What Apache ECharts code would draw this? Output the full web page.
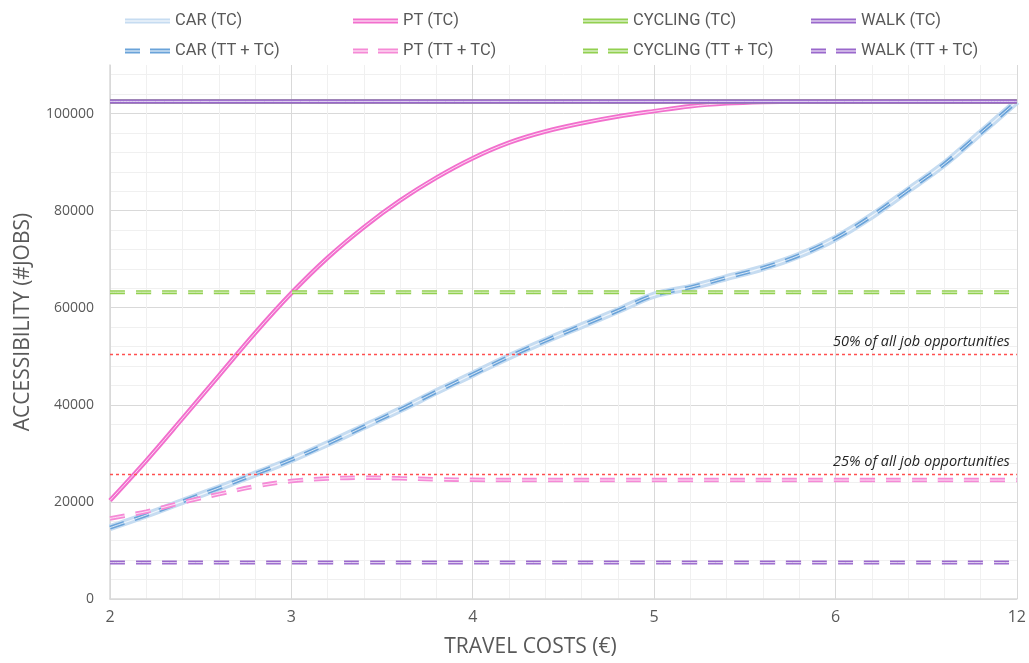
<!DOCTYPE html>
<html>
<head>
<meta charset="utf-8">
<script src="https://cdn.jsdelivr.net/npm/echarts@6/dist/echarts.min.js"></script>
<style>
html,body{margin:0;padding:0;background:#fff;}
#chart{width:1029px;height:663px;}
</style>
</head>
<body>
<div id="chart"></div>
<script>
// ---- data ----
const categories = ['2','2.2','2.4','2.6','2.8','3','3.2','3.4','3.6','3.8','4','4.2','4.4','4.6','4.8','5','5.2','5.4','5.6','5.8','6','7.2','8.4','9.6','10.8','12'];
const carTC      = [14700,17300,20100,22850,25750,28700,32000,35500,39000,42700,46300,49900,53200,56300,59400,62600,64200,66200,68200,70800,74300,78900,84200,89600,96000,102500];
const carTTTC    = [14700,17300,20100,22850,25750,28700,32000,35500,39000,42700,46300,49900,53200,56300,59400,62600,64200,66200,68200,70800,74300,78900,84200,89600,96000,102500];
const ptTC       = [20300,28500,37200,46000,54800,63000,70300,76600,82100,86800,90800,94000,96300,98000,99400,100500,101500,102100,102400,102500,102500,102500,102500,102500,102500,102500];
const ptTTTC     = [16600,18000,19900,21600,23200,24300,24800,25000,24850,24650,24550,24500,24500,24500,24500,24500,24500,24500,24500,24500,24500,24500,24500,24500,24500,24500];
const cyclingTC  = [102500,102500,102500,102500,102500,102500,102500,102500,102500,102500,102500,102500,102500,102500,102500,102500,102500,102500,102500,102500,102500,102500,102500,102500,102500,102500];
const cyclingTTTC= [63200,63200,63200,63200,63200,63200,63200,63200,63200,63200,63200,63200,63200,63200,63200,63200,63200,63200,63200,63200,63200,63200,63200,63200,63200,63200];
const walkTC     = [102500,102500,102500,102500,102500,102500,102500,102500,102500,102500,102500,102500,102500,102500,102500,102500,102500,102500,102500,102500,102500,102500,102500,102500,102500,102500];
const walkTTTC   = [7500,7500,7500,7500,7500,7500,7500,7500,7500,7500,7500,7500,7500,7500,7500,7500,7500,7500,7500,7500,7500,7500,7500,7500,7500,7500];
const thresholdValues = [50400, 25750];
const thresholdLabels = ['50% of all job opportunities', '25% of all job opportunities'];
const xAxisTitle = 'TRAVEL COSTS (€)';
const yAxisTitle = 'ACCESSIBILITY (#JOBS)';

// ---- styles ----
const MAJOR = '#d9d9d9', MINOR = '#f0f0f0';
const DASH = [15, 11];
const yLineColors = [];
for (let i = 0; i <= 28; i++) yLineColors.push(i === 28 ? 'rgba(0,0,0,0)' : (i % 5 === 0 ? MAJOR : MINOR));

const ICON_SOLID = 'path://M0,0H45V2H0Z M0,3H45V5H0Z';
const ICON_DASH = 'path://M0,0H15V2H0Z M0,3H15V5H0Z M25,0H45V2H25Z M25,3H45V5H25Z';

function lineSeries(name, data, color, width, dashed, z) {
  return {
    name: name, type: 'line', data: data, smooth: 0.35, symbol: 'none', z: z,
    lineStyle: { color: color, width: width, type: dashed ? DASH : 'solid', cap: 'butt' },
    itemStyle: { color: color },
    emphasis: { disabled: true }, silent: true
  };
}
function coreSeries(data, width, dashed, z) {
  return {
    name: '_core', type: 'line', data: data, smooth: 0.35, symbol: 'none', z: z,
    lineStyle: { color: 'rgba(255,255,255,0.75)', width: width, type: dashed ? DASH : 'solid', cap: 'butt' },
    emphasis: { disabled: true }, silent: true
  };
}

const C_CAR = '#c6dcf1', C_CAR_D = '#6aa3d9', C_PT = '#f26fcd', C_PT_D = '#f58ad6', C_CYC = '#92d050', C_WALK = '#9a68cc';

const series = [
  lineSeries('CAR (TC)', carTC, C_CAR, 7, false, 2), coreSeries(carTC, 1.2, false, 2),
  lineSeries('PT (TC)', ptTC, C_PT, 4.5, false, 3), coreSeries(ptTC, 1, false, 3),
  lineSeries('CYCLING (TC)', cyclingTC, C_CYC, 4.5, false, 3), coreSeries(cyclingTC, 1, false, 3),
  lineSeries('WALK (TC)', walkTC, C_WALK, 4.5, false, 3), coreSeries(walkTC, 1, false, 3),
  lineSeries('CAR (TT + TC)', carTTTC, C_CAR_D, 4, true, 4), coreSeries(carTTTC, 1, true, 4),
  lineSeries('PT (TT + TC)', ptTTTC, C_PT_D, 4.5, true, 4), coreSeries(ptTTTC, 1, true, 4),
  lineSeries('CYCLING (TT + TC)', cyclingTTTC, C_CYC, 4, true, 4), coreSeries(cyclingTTTC, 1, true, 4),
  lineSeries('WALK (TT + TC)', walkTTTC, C_WALK, 4, true, 4), coreSeries(walkTTTC, 1, true, 4),
  {
    name: '_thresholds', type: 'line', data: [], z: 5, silent: true,
    markLine: {
      silent: true, symbol: 'none', animation: false,
      lineStyle: { color: '#ff5050', width: 1.3, type: [3, 3] },
      label: {
        show: true, position: 'insideEndTop', distance: [7, 5],
        fontFamily: 'Open Sans', fontStyle: 'italic', fontSize: 14.5, color: '#262626',
        formatter: function (p) { return thresholdLabels[p.dataIndex]; }
      },
      data: thresholdValues.map(v => ({ yAxis: v }))
    }
  }
];

const legendCols = [
  ['CAR (TC)', 'CAR (TT + TC)', 120],
  ['PT (TC)', 'PT (TT + TC)', 348],
  ['CYCLING (TC)', 'CYCLING (TT + TC)', 578],
  ['WALK (TC)', 'WALK (TT + TC)', 806]
];
const legends = legendCols.map(c => ({
  orient: 'vertical', left: c[2], top: 7, itemWidth: 45, itemHeight: 5, itemGap: 12,
  selectedMode: false,
  data: [{ name: c[0], icon: ICON_SOLID }, { name: c[1], icon: ICON_DASH }],
  textStyle: { fontFamily: 'Roboto', fontSize: 16.5, color: '#595959', lineHeight: 18 }
}));

const chart = echarts.init(document.getElementById('chart'), null, { renderer: 'canvas' });
chart.setOption({
  animation: false,
  backgroundColor: '#ffffff',
  legend: legends,
  grid: { left: 110, right: 9, top: 65, bottom: 64, containLabel: false },
  xAxis: {
    type: 'category', data: categories, boundaryGap: false,
    name: xAxisTitle, nameLocation: 'middle', nameGap: 38,
    nameTextStyle: { fontFamily: 'Open Sans', fontSize: 21, color: '#595959', padding: [0, 66, 0, 0] },
    axisLine: { show: true, lineStyle: { color: MAJOR, width: 1.5 } },
    axisTick: { show: false },
    axisLabel: { interval: 4, margin: 10, fontFamily: 'Open Sans', fontSize: 16, color: '#595959' },
    splitLine: { show: true, interval: 0, lineStyle: { color: [MAJOR, MINOR, MINOR, MINOR, MINOR], width: 1 } }
  },
  yAxis: {
    type: 'value', min: 0, max: 110000, interval: 4000,
    name: yAxisTitle, nameLocation: 'middle', nameGap: 76,
    nameTextStyle: { fontFamily: 'Open Sans', fontSize: 21, color: '#595959', padding: [0, 0, 0, 20] },
    axisLine: { show: true, lineStyle: { color: MAJOR, width: 1.5 } },
    axisTick: { show: false },
    axisLabel: {
      margin: 16, fontFamily: 'Open Sans', fontSize: 14, color: '#595959',
      formatter: function (v) { return (v % 20000 === 0 && v <= 100000) ? String(v) : ''; }
    },
    splitLine: { show: true, lineStyle: { color: yLineColors, width: 1 } }
  },
  series: series
});
</script>
</body>
</html>
